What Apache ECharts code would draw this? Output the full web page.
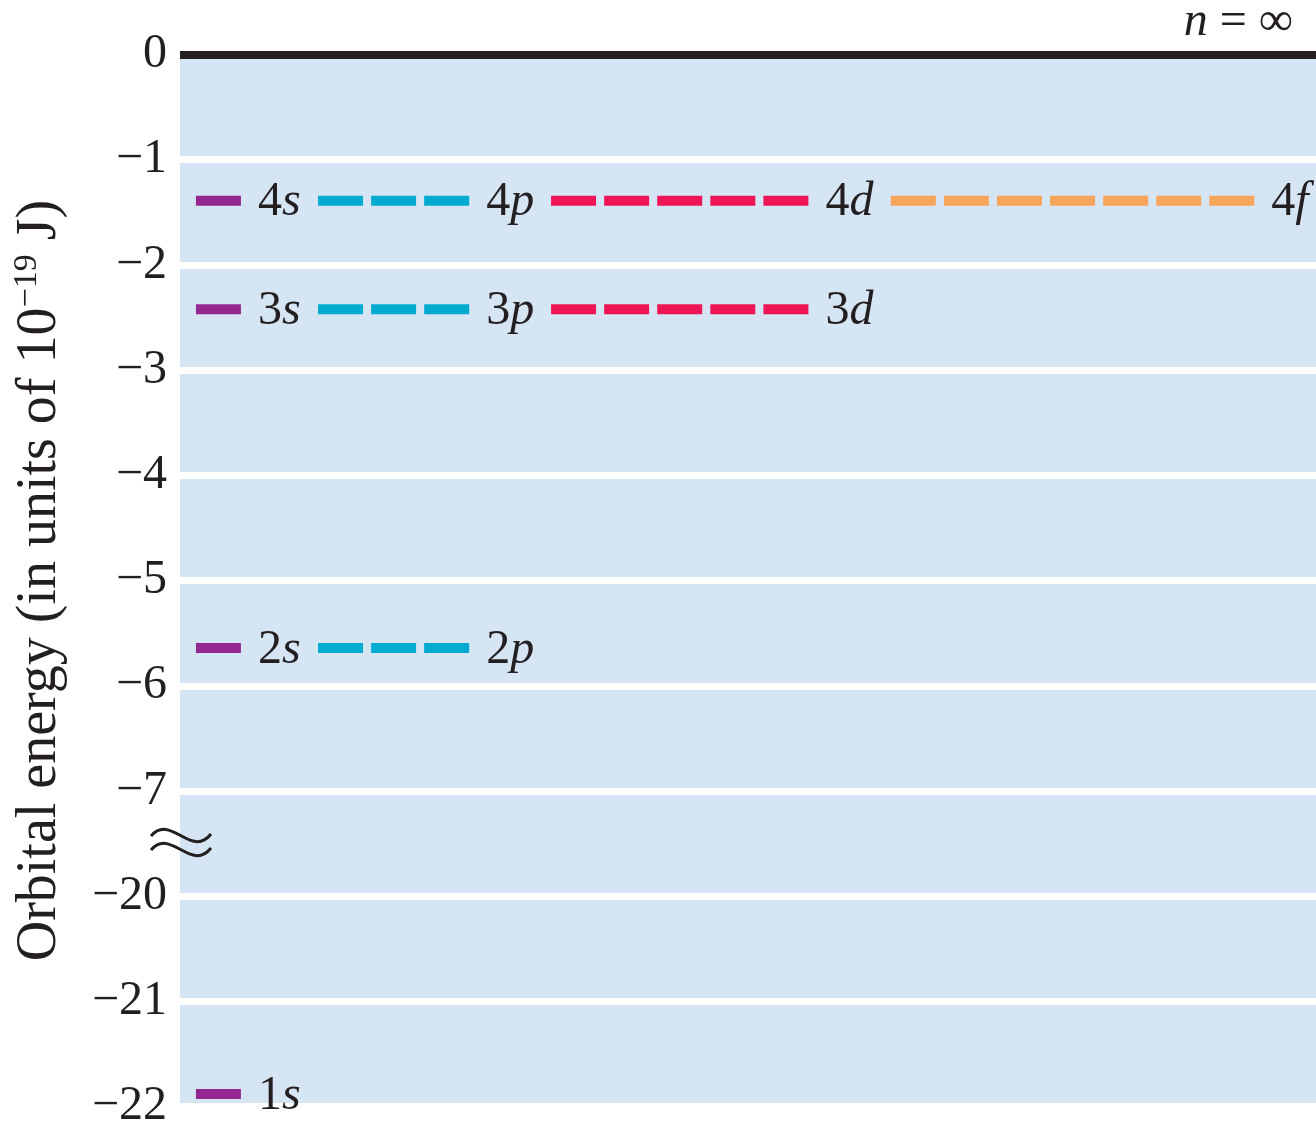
<!DOCTYPE html>
<html><head><meta charset="utf-8">
<script src="https://cdn.jsdelivr.net/npm/echarts@6/dist/echarts.min.js"></script>
<style>html,body{margin:0;padding:0;background:#fff}#c{width:1316px;height:1125px}</style>
</head><body><div id="c"></div>
<script>
// ---- data ----
const shellNumbers = [1, 2, 3, 4];
const shellEnergies = [-21.88, -5.64, -2.42, -1.39]; // units of 10^-19 J
const subshellLetters = ['s', 'p', 'd', 'f'];
const orbitalsPerSubshell = [1, 3, 5, 7];
const subshellColors = ['#93278f', '#00abcf', '#ee1556', '#f8a55c'];
const yTickLabels = ['0', '\u22121', '\u22122', '\u22123', '\u22124', '\u22125', '\u22126', '\u22127', '\u221220', '\u221221', '\u221222'];
const axisBreakFrom = -7, axisBreakTo = -20;

// ---- layout ----
const FONT = '"Liberation Serif", "Times New Roman", serif';
const TXT = '#231f20';
const GRID_W = 1316 - 180;
const SLOT_UNITS = 21.4;
const PX_PER_UNIT = GRID_W / SLOT_UNITS;
const LEFT_PAD = 0.3;
const LABEL_GAPS = [1.3, 1.39, 1.4];
const DASH_PX = 45;
const DASH_HALF = (DASH_PX / 2) / PX_PER_UNIT;

function toAxis(e) { return e >= axisBreakFrom ? e : e + ((axisBreakFrom - 1) - axisBreakTo); }

const subStart = [LEFT_PAD];
for (let l = 1; l < subshellLetters.length; l++) {
  subStart[l] = subStart[l - 1] + orbitalsPerSubshell[l - 1] + LABEL_GAPS[l - 1];
}

const series = subshellLetters.map((letter, l) => {
  const data = [];
  shellNumbers.forEach((n, i) => {
    if (n <= l) return;
    const cnt = orbitalsPerSubshell[l];
    for (let j = 0; j < cnt; j++) {
      const item = { value: [subStart[l] + j + DASH_HALF, toAxis(shellEnergies[i])] };
      if (j === cnt - 1) {
        item.label = { show: true, formatter: '{n|' + n + '}{l|' + letter + '}' };
      }
      data.push(item);
    }
  });
  const s = {
    type: 'scatter',
    name: letter,
    symbol: 'rect',
    symbolSize: [DASH_PX, 10],
    itemStyle: { color: subshellColors[l], opacity: 1 },
    silent: true,
    emphasis: { disabled: true },
    label: {
      show: false,
      position: 'right',
      distance: 17,
      offset: [0, 2],
      opacity: 1,
      rich: {
        n: { fontFamily: FONT, fontSize: 48, color: TXT },
        l: { fontFamily: FONT, fontSize: 48, color: TXT, fontStyle: 'italic' }
      }
    },
    data: data
  };
  if (l === 0) {
    s.markLine = {
      silent: true,
      symbol: 'none',
      label: { show: false },
      lineStyle: { color: TXT, width: 8, type: 'solid', opacity: 1 },
      data: [{ yAxis: 0 }]
    };
  }
  return s;
});

function tilde(dy) {
  return {
    type: 'bezierCurve', z: 100, silent: true,
    shape: { x1: 151, y1: 836 + dy, cpx1: 171, cpy1: 813 + dy, cpx2: 191, cpy2: 859 + dy, x2: 211, y2: 834 + dy },
    style: { stroke: TXT, lineWidth: 3, fill: null }
  };
}

const chart = echarts.init(document.getElementById('c'), null, { renderer: 'canvas' });
chart.setOption({
  animation: false,
  backgroundColor: '#ffffff',
  grid: {
    left: 180, right: 0, top: 54.5, bottom: 18.3,
    show: true, backgroundColor: '#d5e5f4', borderWidth: 0,
    outerBoundsMode: 'none'
  },
  xAxis: {
    type: 'value', min: 0, max: SLOT_UNITS, show: false
  },
  yAxis: {
    type: 'value', min: -10, max: 0, interval: 1,
    axisLine: { show: false },
    axisTick: { show: false },
    splitLine: { show: true, lineStyle: { color: '#ffffff', width: 7 } },
    axisLabel: {
      margin: 13,
      fontFamily: FONT, fontSize: 48, color: TXT,
      formatter: v => yTickLabels[Math.round(-v)]
    },
    name: '{a|Orbital energy (in units of 10}{s|\u221219}{a| J)}',
    nameLocation: 'middle',
    nameGap: 110,
    nameRotate: 90,
    nameTextStyle: {
      color: TXT, fontFamily: FONT, fontSize: 56,
      rich: {
        a: { fontFamily: FONT, fontSize: 56, color: TXT, lineHeight: 60 },
        s: { fontFamily: FONT, fontSize: 34, color: TXT, lineHeight: 40, verticalAlign: 'top' }
      }
    }
  },
  graphic: [
    tilde(0),
    tilde(14),
    {
      type: 'text', x: 1293, y: 22, z: 100, silent: true,
      style: {
        text: '{i|n} = \u221e', fill: TXT, fontFamily: FONT, fontSize: 48,
        align: 'right', verticalAlign: 'middle',
        rich: { i: { fontFamily: FONT, fontSize: 48, fontStyle: 'italic', fill: TXT } }
      }
    }
  ],
  series: series
});
</script>
</body></html>
